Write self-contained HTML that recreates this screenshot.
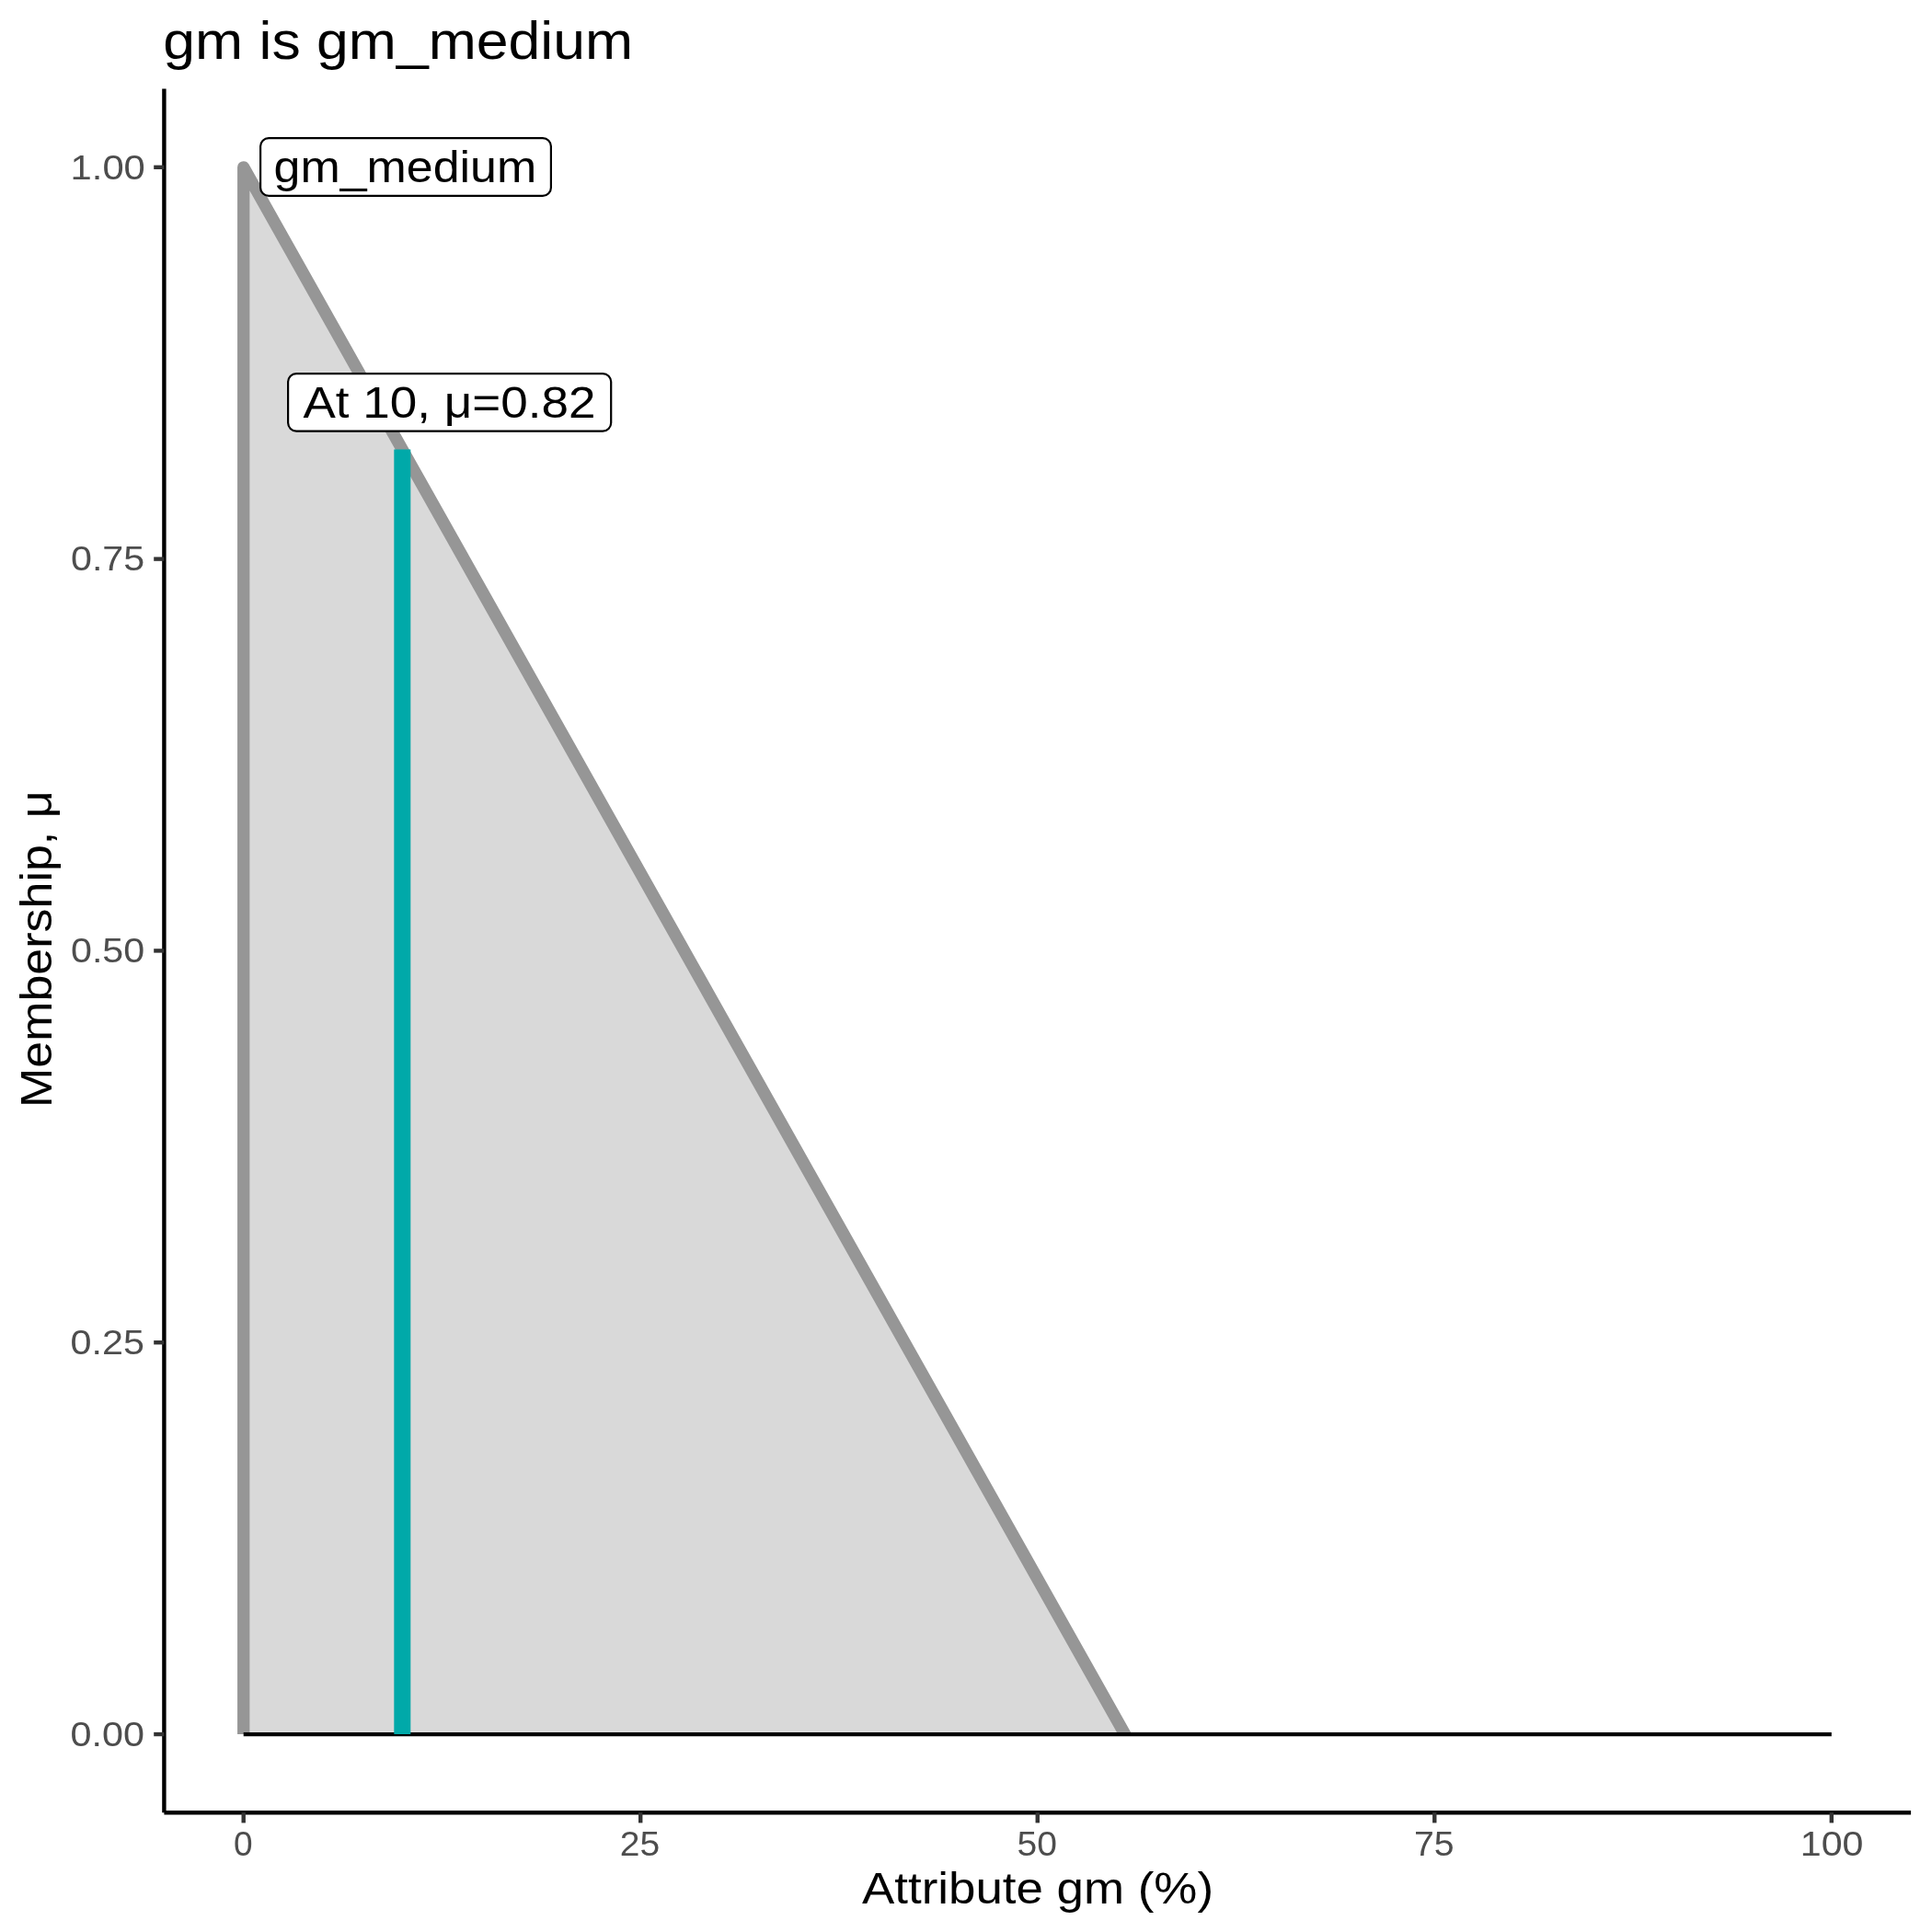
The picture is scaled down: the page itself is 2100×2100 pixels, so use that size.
<!DOCTYPE html>
<html><head><meta charset="utf-8"><title>gm is gm_medium</title>
<style>
html,body{margin:0;padding:0;background:#fff;}
body{width:2100px;height:2100px;overflow:hidden;font-family:"Liberation Sans", sans-serif;}
svg{display:block;will-change:transform;}
text{font-family:"Liberation Sans", sans-serif;}
</style></head><body>
<svg width="2100" height="2100" viewBox="0 0 2100 2100">
<rect x="0" y="0" width="2100" height="2100" fill="#ffffff"/>
<defs><clipPath id="clipPanel"><rect x="178.4" y="96.6" width="1898.6999999999998" height="1788.45"/></clipPath></defs>
<polygon points="264.7,1885.05 264.7,181.8 1222.69,1885.05" fill="#d9d9d9"/>
<g clip-path="url(#clipPanel)"><polyline points="264.7,1905.05 264.7,181.8 1233.99,1905.05" fill="none" stroke="#969696" stroke-width="13.3" stroke-linejoin="round" stroke-linecap="butt"/></g>
<line x1="264.7" y1="1885.05" x2="1990.8" y2="1885.05" stroke="#000" stroke-width="4.2"/>
<line x1="437.31" y1="1885.05" x2="437.31" y2="488.38" stroke="#00a9a9" stroke-width="18"/>
<line x1="178.4" y1="96.6" x2="178.4" y2="1970.2" stroke="#000" stroke-width="4.4"/>
<line x1="178.4" y1="1970.2" x2="2077.1" y2="1970.2" stroke="#000" stroke-width="4.4"/>
<line x1="167.20" y1="1885.05" x2="178.4" y2="1885.05" stroke="#333" stroke-width="4.4"/>
<line x1="167.20" y1="1459.24" x2="178.4" y2="1459.24" stroke="#333" stroke-width="4.4"/>
<line x1="167.20" y1="1033.42" x2="178.4" y2="1033.42" stroke="#333" stroke-width="4.4"/>
<line x1="167.20" y1="607.61" x2="178.4" y2="607.61" stroke="#333" stroke-width="4.4"/>
<line x1="167.20" y1="181.80" x2="178.4" y2="181.80" stroke="#333" stroke-width="4.4"/>
<line x1="264.70" y1="1970.2" x2="264.70" y2="1981.40" stroke="#333" stroke-width="4.4"/>
<line x1="696.22" y1="1970.2" x2="696.22" y2="1981.40" stroke="#333" stroke-width="4.4"/>
<line x1="1127.75" y1="1970.2" x2="1127.75" y2="1981.40" stroke="#333" stroke-width="4.4"/>
<line x1="1559.28" y1="1970.2" x2="1559.28" y2="1981.40" stroke="#333" stroke-width="4.4"/>
<line x1="1990.80" y1="1970.2" x2="1990.80" y2="1981.40" stroke="#333" stroke-width="4.4"/>
<rect x="283.1" y="150.1" width="315.80" height="62.80" rx="9" ry="9" fill="#fff" stroke="#000" stroke-width="2.2"/>
<rect x="313.1" y="406.1" width="351.10" height="62.50" rx="9" ry="9" fill="#fff" stroke="#000" stroke-width="2.2"/>
<text x="432.70" y="63.70" font-size="58.0" fill="#000" text-anchor="middle" textLength="510.70" lengthAdjust="spacingAndGlyphs">gm is gm_medium</text>
<text x="440.40" y="197.80" font-size="48.4" fill="#000" text-anchor="middle" textLength="285.70" lengthAdjust="spacingAndGlyphs">gm_medium</text>
<text x="488.40" y="454.30" font-size="48.4" fill="#000" text-anchor="middle" textLength="318.00" lengthAdjust="spacingAndGlyphs">At 10, μ=0.82</text>
<text x="1128.00" y="2068.50" font-size="48.4" fill="#000" text-anchor="middle" textLength="382.00" lengthAdjust="spacingAndGlyphs">Attribute gm (%)</text>
<text transform="translate(56.00,1031.70) rotate(-90)" x="0" y="0" font-size="48.4" fill="#000" text-anchor="middle" textLength="344.60" lengthAdjust="spacingAndGlyphs">Membership, μ</text>
<text x="116.80" y="1897.75" font-size="36.8" fill="#4d4d4d" text-anchor="middle" textLength="80.40" lengthAdjust="spacingAndGlyphs">0.00</text>
<text x="116.80" y="1471.94" font-size="36.8" fill="#4d4d4d" text-anchor="middle" textLength="80.40" lengthAdjust="spacingAndGlyphs">0.25</text>
<text x="117.10" y="1046.12" font-size="36.8" fill="#4d4d4d" text-anchor="middle" textLength="80.20" lengthAdjust="spacingAndGlyphs">0.50</text>
<text x="117.10" y="620.31" font-size="36.8" fill="#4d4d4d" text-anchor="middle" textLength="80.20" lengthAdjust="spacingAndGlyphs">0.75</text>
<text x="117.20" y="194.50" font-size="36.8" fill="#4d4d4d" text-anchor="middle" textLength="81.20" lengthAdjust="spacingAndGlyphs">1.00</text>
<text x="264.30" y="2016.70" font-size="36.8" fill="#4d4d4d" text-anchor="middle" textLength="20.60" lengthAdjust="spacingAndGlyphs">0</text>
<text x="695.50" y="2016.70" font-size="36.8" fill="#4d4d4d" text-anchor="middle" textLength="43.40" lengthAdjust="spacingAndGlyphs">25</text>
<text x="1127.30" y="2016.70" font-size="36.8" fill="#4d4d4d" text-anchor="middle" textLength="43.40" lengthAdjust="spacingAndGlyphs">50</text>
<text x="1558.80" y="2016.70" font-size="36.8" fill="#4d4d4d" text-anchor="middle" textLength="43.60" lengthAdjust="spacingAndGlyphs">75</text>
<text x="1991.10" y="2016.70" font-size="36.8" fill="#4d4d4d" text-anchor="middle" textLength="68.60" lengthAdjust="spacingAndGlyphs">100</text>
</svg>
</body></html>
